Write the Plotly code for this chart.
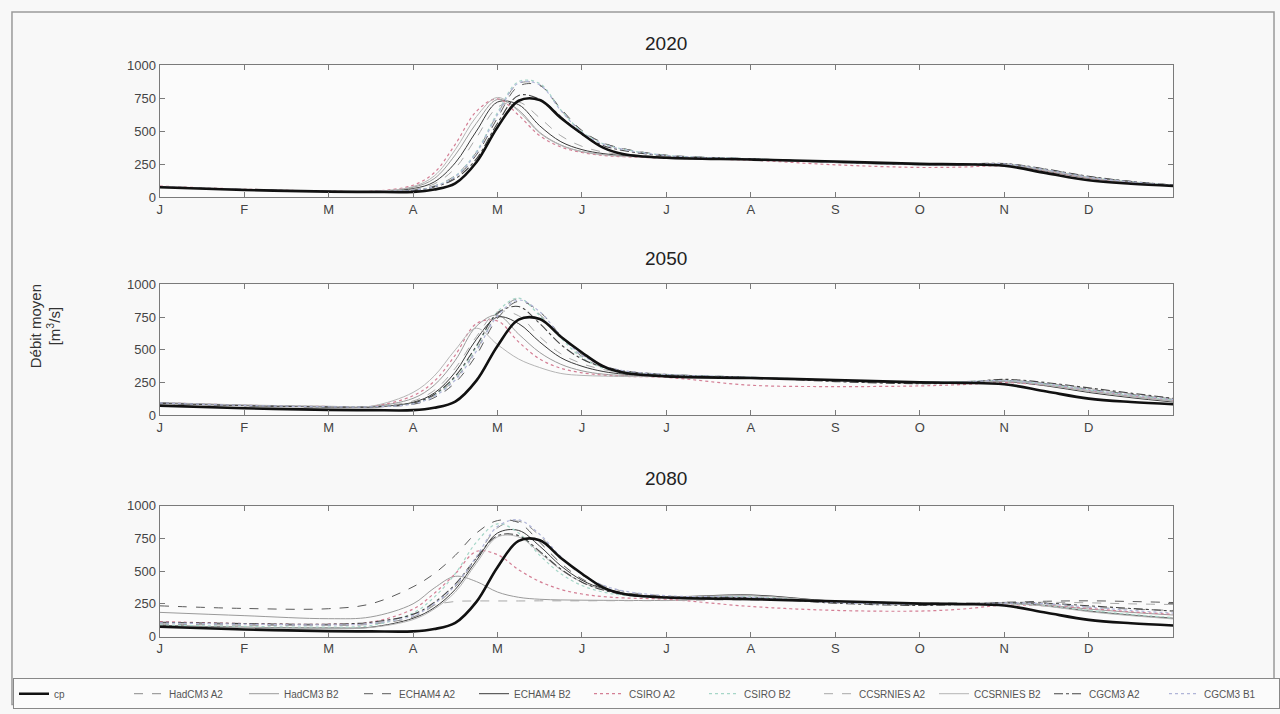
import plotly.graph_objects as go

# Month positions (in months from 1 January) where flows are sampled
X = [0, 1, 2, 2.5, 3, 3.25, 3.5, 3.75, 4, 4.25, 4.5, 4.75, 5, 5.25, 5.5,
     6, 7, 8, 9, 9.5, 10, 10.5, 11, 11.5, 12]

MONTH_LABELS = ["J", "F", "M", "A", "M", "J", "J", "A", "S", "O", "N", "D"]
Y_TICKS = [0, 250, 500, 750, 1000]
HORIZONS = ["2020", "2050", "2080"]

# Present climate (same reference hydrograph in every panel)
cp = [75, 55, 42, 40, 40, 58, 105, 265, 530, 730, 735, 600, 480, 375, 325,
      298, 285, 270, 252, 248, 238, 182, 128, 102, 85]

# ---- Horizon 2020 ----
had_a2_20 = [82, 60, 45, 43, 55, 85, 165, 340, 630, 860, 850, 660, 500, 410, 365, 318, 292, 268, 248, 248, 252, 208, 152, 116, 90]
had_b2_20 = [80, 59, 44, 43, 75, 140, 320, 560, 740, 660, 490, 395, 345, 322, 310, 300, 285, 262, 245, 246, 250, 202, 147, 112, 87]
ech_a2_20 = [79, 58, 44, 42, 52, 80, 150, 320, 600, 840, 845, 670, 505, 412, 366, 318, 291, 266, 247, 247, 251, 210, 155, 118, 92]
ech_b2_20 = [77, 57, 43, 42, 65, 115, 260, 500, 720, 700, 540, 420, 360, 330, 315, 302, 286, 262, 246, 246, 248, 198, 144, 110, 86]
csiro_a2_20 = [84, 61, 46, 45, 90, 185, 400, 650, 745, 620, 465, 380, 338, 316, 306, 296, 280, 245, 225, 228, 236, 196, 145, 110, 85]
csiro_b2_20 = [80, 59, 44, 43, 54, 82, 160, 345, 640, 875, 860, 660, 495, 405, 362, 316, 291, 266, 246, 247, 251, 207, 152, 117, 91]
ccs_a2_20 = [79, 58, 44, 42, 60, 100, 220, 450, 680, 720, 600, 465, 385, 342, 322, 305, 285, 262, 245, 246, 250, 203, 148, 113, 88]
ccs_b2_20 = [81, 60, 45, 43, 80, 160, 360, 610, 755, 650, 485, 392, 345, 322, 310, 300, 286, 263, 247, 246, 249, 201, 147, 112, 87]
cgcm_a2_20 = [78, 57, 43, 42, 50, 78, 140, 290, 560, 770, 740, 610, 475, 392, 352, 312, 290, 266, 248, 250, 255, 212, 158, 120, 93]
cgcm_b1_20 = [80, 58, 44, 43, 53, 80, 155, 335, 625, 865, 850, 655, 490, 402, 360, 315, 290, 265, 246, 247, 252, 206, 151, 116, 90]

# ---- Horizon 2050 ----
had_a2_50 = [95, 76, 66, 65, 90, 150, 280, 500, 770, 890, 770, 600, 450, 365, 332, 312, 292, 270, 256, 258, 268, 240, 195, 155, 118]
had_b2_50 = [97, 78, 68, 68, 130, 230, 420, 680, 765, 620, 480, 390, 340, 315, 305, 300, 288, 266, 252, 254, 262, 232, 185, 145, 110]
ech_a2_50 = [94, 75, 65, 64, 85, 135, 250, 460, 740, 870, 790, 610, 465, 380, 340, 313, 290, 262, 248, 252, 265, 242, 200, 160, 122]
ech_b2_50 = [93, 74, 64, 63, 100, 170, 330, 580, 750, 700, 560, 440, 375, 335, 315, 302, 287, 265, 250, 252, 258, 225, 175, 135, 102]
csiro_a2_50 = [98, 78, 68, 68, 150, 260, 460, 700, 720, 560, 430, 360, 325, 308, 298, 290, 230, 220, 225, 235, 250, 230, 190, 150, 115]
csiro_b2_50 = [96, 77, 67, 66, 92, 155, 290, 520, 790, 895, 760, 590, 440, 360, 330, 310, 291, 269, 255, 257, 266, 238, 193, 153, 117]
ccs_a2_50 = [95, 76, 66, 65, 110, 190, 360, 600, 790, 760, 600, 470, 395, 350, 325, 305, 288, 266, 252, 256, 270, 245, 205, 165, 128]
ccs_b2_50 = [99, 80, 70, 70, 175, 300, 500, 665, 540, 430, 365, 320, 305, 300, 297, 295, 285, 264, 250, 252, 260, 230, 183, 143, 108]
cgcm_a2_50 = [94, 75, 65, 64, 95, 160, 300, 530, 780, 830, 700, 540, 430, 370, 338, 310, 289, 258, 242, 248, 275, 250, 210, 170, 130]
cgcm_b1_50 = [95, 76, 66, 65, 88, 145, 270, 490, 760, 880, 790, 605, 460, 378, 340, 312, 291, 268, 254, 256, 266, 240, 196, 156, 120]

# ---- Horizon 2080 ----
had_a2_80 = [95, 88, 85, 95, 150, 240, 380, 600, 830, 880, 770, 600, 470, 390, 345, 310, 295, 258, 240, 245, 255, 250, 225, 210, 200]
had_b2_80 = [185, 160, 137, 150, 250, 370, 460, 420, 340, 300, 285, 280, 278, 277, 276, 276, 290, 265, 250, 250, 252, 240, 210, 185, 165]
ech_a2_80 = [235, 215, 213, 250, 380, 480, 620, 790, 885, 870, 720, 560, 440, 370, 335, 305, 298, 262, 248, 252, 262, 270, 273, 268, 260]
ech_b2_80 = [85, 72, 66, 72, 140, 220, 360, 580, 790, 810, 690, 540, 430, 365, 330, 305, 318, 270, 252, 252, 255, 235, 195, 165, 140]
csiro_a2_80 = [115, 100, 95, 110, 210, 330, 480, 650, 625, 510, 420, 360, 325, 305, 295, 285, 230, 200, 195, 210, 240, 235, 215, 190, 170]
csiro_b2_80 = [90, 78, 73, 85, 180, 300, 480, 720, 860, 790, 620, 480, 390, 340, 315, 298, 305, 268, 250, 250, 252, 235, 200, 170, 145]
ccs_a2_80 = [100, 90, 86, 100, 170, 240, 268, 272, 272, 272, 273, 273, 273, 274, 274, 275, 280, 270, 258, 258, 262, 262, 258, 250, 245]
ccs_b2_80 = [80, 70, 64, 70, 130, 210, 340, 560, 760, 760, 640, 510, 415, 360, 328, 305, 312, 268, 250, 250, 253, 232, 190, 160, 135]
cgcm_a2_80 = [110, 100, 95, 110, 170, 260, 400, 600, 770, 770, 650, 515, 415, 355, 322, 302, 296, 255, 238, 245, 258, 255, 235, 215, 195]
cgcm_b1_80 = [105, 95, 90, 100, 160, 250, 390, 610, 840, 890, 780, 610, 475, 392, 348, 312, 300, 260, 245, 248, 256, 250, 225, 200, 180]

SCENARIOS = ["HadCM3 A2", "HadCM3 B2", "ECHAM4 A2", "ECHAM4 B2", "CSIRO A2",
             "CSIRO B2", "CCSRNIES A2", "CCSRNIES B2", "CGCM3 A2", "CGCM3 B1"]

PANELS = {
    "2020": [had_a2_20, had_b2_20, ech_a2_20, ech_b2_20, csiro_a2_20,
             csiro_b2_20, ccs_a2_20, ccs_b2_20, cgcm_a2_20, cgcm_b1_20],
    "2050": [had_a2_50, had_b2_50, ech_a2_50, ech_b2_50, csiro_a2_50,
             csiro_b2_50, ccs_a2_50, ccs_b2_50, cgcm_a2_50, cgcm_b1_50],
    "2080": [had_a2_80, had_b2_80, ech_a2_80, ech_b2_80, csiro_a2_80,
             csiro_b2_80, ccs_a2_80, ccs_b2_80, cgcm_a2_80, cgcm_b1_80],
}

# Line styles per scenario
STYLES = {
    "HadCM3 A2": dict(color="#8a8a8a", dash="dash", width=1),
    "HadCM3 B2": dict(color="#9a9a9a", dash="solid", width=1),
    "ECHAM4 A2": dict(color="#5a5a5a", dash="dash", width=1),
    "ECHAM4 B2": dict(color="#3a3a3a", dash="solid", width=1),
    "CSIRO A2": dict(color="#d47f95", dash="dot", width=1.2),
    "CSIRO B2": dict(color="#a6d6c8", dash="dot", width=1.2),
    "CCSRNIES A2": dict(color="#a8a8a8", dash="dash", width=1),
    "CCSRNIES B2": dict(color="#b4b4b4", dash="solid", width=1),
    "CGCM3 A2": dict(color="#454545", dash="dashdot", width=1.1),
    "CGCM3 B1": dict(color="#b0b5d8", dash="dot", width=1.2),
}
CP_STYLE = dict(color="#111111", width=2.6, dash="solid")

W, H = 1280, 714
# The page is shown slightly squeezed vertically; these two numbers convert
# a desired on-screen row into a row of the figure.
ROW_SCALE, ROW_SHIFT = 0.978, 7.0


def py(row):
    """Paper y coordinate for an on-screen pixel row."""
    return 1 - ((row - ROW_SHIFT) / ROW_SCALE) / H


PLOT_X = (157 / W, 1173 / W)
# (top, bottom) pixel rows of each panel
PANEL_ROWS = [(65, 197), (284, 415), (505, 636)]
TITLE_ROWS = [43, 258, 478]

FONT = "Liberation Sans, Arial, sans-serif"

fig = go.Figure()

for i, horizon in enumerate(HORIZONS):
    axn = "" if i == 0 else str(i + 1)
    xref, yref = "x" + axn, "y" + axn
    for name, vals in zip(SCENARIOS, PANELS[horizon]):
        fig.add_trace(go.Scatter(
            x=X, y=vals, mode="lines", name=name,
            line=dict(shape="spline", smoothing=1.0, **STYLES[name]),
            xaxis=xref, yaxis=yref, legendgroup=name,
            showlegend=(i == 0), hoverinfo="skip"))
    fig.add_trace(go.Scatter(
        x=X, y=cp, mode="lines", name="cp",
        line=dict(shape="spline", smoothing=1.0, **CP_STYLE),
        xaxis=xref, yaxis=yref, legendgroup="cp", legendrank=1,
        showlegend=(i == 0), hoverinfo="skip"))

axis_common = dict(showline=True, mirror="ticks", linecolor="#7a7a7a",
                   linewidth=1, ticks="inside", ticklen=5, tickcolor="#7a7a7a",
                   showgrid=False, zeroline=False,
                   tickfont=dict(family=FONT, size=13, color="#444"))

layout_axes = {}
for i, (top, bot) in enumerate(PANEL_ROWS):
    n = "" if i == 0 else str(i + 1)
    layout_axes["xaxis" + n] = dict(
        domain=list(PLOT_X), range=[0, 12], tickvals=list(range(12)),
        ticktext=MONTH_LABELS, anchor="y" + n, **axis_common)
    layout_axes["yaxis" + n] = dict(
        domain=[py(bot), py(top)], range=[0, 1000],
        tickvals=Y_TICKS, anchor="x" + n, **axis_common)

annotations = []
for t, row in zip(HORIZONS, TITLE_ROWS):
    annotations.append(dict(
        text=t, x=(PLOT_X[0] + PLOT_X[1]) / 2, y=py(row),
        xref="paper", yref="paper", showarrow=False,
        xanchor="center", yanchor="middle",
        font=dict(family=FONT, size=19, color="#222")))
annotations.append(dict(
    text="Débit moyen<br>[m<sup>3</sup>/s]", x=42 / W, y=py(326),
    xref="paper", yref="paper", showarrow=False, textangle=-90,
    xanchor="center", yanchor="middle",
    font=dict(family=FONT, size=15, color="#333")))

fig.update_layout(
    width=W, height=H,
    margin=dict(l=0, r=0, t=0, b=0),
    paper_bgcolor="#f8f8f8", plot_bgcolor="#fbfbfb",
    font=dict(family=FONT),
    showlegend=True,
    legend=dict(orientation="h", x=12 / W, y=py(693),
                xanchor="left", yanchor="middle",
                entrywidth=70, entrywidthmode="pixels", itemwidth=30,
                tracegroupgap=0,
                bgcolor="#fbfbfb", bordercolor="#888", borderwidth=1,
                font=dict(family=FONT, size=10, color="#555"),
                traceorder="normal"),
    annotations=annotations,
    shapes=[dict(type="rect", xref="paper", yref="paper",
                 x0=9 / W, x1=1274 / W, y0=0.002, y1=py(12),
                 line=dict(color="#9a9a9a", width=1.5))],
    **layout_axes,
)

fig.write_html("out.html")
